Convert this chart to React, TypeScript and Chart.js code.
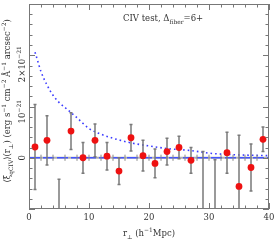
import React, { useEffect, useRef } from "react";
import { Chart, registerables } from "chart.js";
Chart.register(...registerables);

// Data (values in units of 1e-21 erg s^-1 cm^-2 Å^-1 arcsec^-2)
const binR = [1, 3, 5, 7, 9, 11, 13, 15, 17, 19, 21, 23, 25, 27, 29, 31, 33, 35, 37, 39];
const xiVals = [0.21, 0.34, -1.3, 0.52, 0.0, 0.34, 0.03, -0.26, 0.39, 0.04, -0.11, 0.12, 0.2, -0.05, -1.5, -1.2, 0.1, -0.56, -0.19, 0.36];
const xiErrs = [0.83, 0.48, 0.88, 0.36, 0.3, 0.32, 0.27, 0.26, 0.26, 0.3, 0.28, 0.26, 0.22, 0.25, 1.62, 1.16, 0.4, 1.0, 0.46, 0.24];

const modelR = [1, 1.5, 2, 3, 4, 5, 6, 7, 8, 10, 12, 14, 17, 20, 23, 27, 30, 34, 40];
const modelV = [2.06, 1.87, 1.68, 1.42, 1.22, 1.08, 0.98, 0.88, 0.78, 0.57, 0.46, 0.38, 0.29, 0.23, 0.18, 0.14, 0.09, 0.06, 0.04];

const zeroR = [2, 4, 6, 8, 10, 12, 14, 16, 18, 20, 22, 24, 26, 28, 30, 32, 34, 36, 38];
const zeroV = zeroR.map(() => 0);
const zeroErr = zeroR.map(() => 0.06);

const xTickLabels = ["0", "10", "20", "30", "40"];
const xTickValues = [0, 10, 20, 30, 40];
const yTickValues = [0, 1, 2];
const yTickLabels = [[{ t: "0" }], [{ t: "10" }, { t: "−21", sup: true }], [{ t: "2×10" }, { t: "−21", sup: true }]];

type Seg = { t: string; sub?: boolean; sup?: boolean };
const FONT = "'DejaVu Serif', serif";

function richWidth(ctx: CanvasRenderingContext2D, segs: Seg[], size: number) {
  let w = 0;
  for (const s of segs) {
    const fs = s.sub || s.sup ? size * 0.7 : size;
    ctx.font = `${fs}px ${FONT}`;
    w += ctx.measureText(s.t).width;
  }
  return w;
}
function drawRich(ctx: CanvasRenderingContext2D, segs: Seg[], x: number, y: number, size: number, align: "left" | "center") {
  const w = richWidth(ctx, segs, size);
  let cx = align === "center" ? x - w / 2 : x;
  ctx.textAlign = "left";
  ctx.textBaseline = "alphabetic";
  for (const s of segs) {
    const fs = s.sub || s.sup ? size * 0.7 : size;
    ctx.font = `${fs}px ${FONT}`;
    const dy = s.sub ? size * 0.3 : s.sup ? -size * 0.45 : 0;
    ctx.fillText(s.t, cx, y + dy);
    cx += ctx.measureText(s.t).width;
  }
  return w;
}

const decorPlugin = {
  id: "decor",
  beforeDatasetDraw(chart: any, args: any) {
    if (args.index !== 3) return;
    const { ctx, chartArea: a, scales } = chart;
    const xs = scales.x, ys = scales.y;
    ctx.save();
    ctx.beginPath();
    ctx.rect(a.left, a.top, a.right - a.left, a.bottom - a.top);
    ctx.clip();
    ctx.lineWidth = 1;
    ctx.strokeStyle = "#888";
    zeroR.forEach((r, i) => {
      const px = xs.getPixelForValue(r);
      ctx.beginPath();
      ctx.moveTo(px, ys.getPixelForValue(zeroV[i] + zeroErr[i]));
      ctx.lineTo(px, ys.getPixelForValue(zeroV[i] - zeroErr[i]));
      ctx.stroke();
    });
    ctx.strokeStyle = "#7a7a7a";
    ctx.lineWidth = 1.5;
    binR.forEach((r, i) => {
      const px = xs.getPixelForValue(r);
      const y1 = ys.getPixelForValue(xiVals[i] + xiErrs[i]);
      const y2 = ys.getPixelForValue(xiVals[i] - xiErrs[i]);
      ctx.beginPath();
      ctx.moveTo(px, y1);
      ctx.lineTo(px, y2);
      ctx.moveTo(px - 1.5, y1);
      ctx.lineTo(px + 1.5, y1);
      ctx.moveTo(px - 1.5, y2);
      ctx.lineTo(px + 1.5, y2);
      ctx.stroke();
    });
    ctx.restore();
  },
  afterDraw(chart: any) {
    const { ctx, chartArea: a, scales } = chart;
    const xs = scales.x, ys = scales.y;
    ctx.save();
    ctx.strokeStyle = "#777";
    ctx.lineWidth = 1;
    ctx.strokeRect(a.left + 0.5, a.top + 0.5, a.right - a.left - 1, a.bottom - a.top - 1);
    ctx.beginPath();
    for (let v = 0; v <= 40; v += 2) {
      const px = Math.round(xs.getPixelForValue(v)) + 0.5;
      const len = v % 10 === 0 ? 6 : 3.5;
      ctx.moveTo(px, a.bottom);
      ctx.lineTo(px, a.bottom - len);
      ctx.moveTo(px, a.top);
      ctx.lineTo(px, a.top + len);
    }
    for (let k = -5; k <= 15; k++) {
      const v = k / 5;
      const py = Math.round(ys.getPixelForValue(v)) + 0.5;
      const len = k % 5 === 0 ? 6 : 3.5;
      ctx.moveTo(a.left, py);
      ctx.lineTo(a.left + len, py);
      ctx.moveTo(a.right, py);
      ctx.lineTo(a.right - len, py);
    }
    ctx.stroke();
    ctx.fillStyle = "#333";
    xTickValues.forEach((v, i) => {
      drawRich(ctx, [{ t: xTickLabels[i] }], xs.getPixelForValue(v), a.bottom + 11, 8.5, "center");
    });
    yTickValues.forEach((v, i) => {
      const segs = yTickLabels[i] as Seg[];
      const w = richWidth(ctx, segs, 8.5);
      const py = ys.getPixelForValue(v) + Math.max(0, w - 6) * 0.3;
      ctx.save();
      ctx.translate(a.left - 4, py);
      ctx.rotate(-Math.PI / 2);
      drawRich(ctx, segs, 0, 0, 8.5, "center");
      ctx.restore();
    });
    drawRich(
      ctx,
      [{ t: "r" }, { t: "⊥", sub: true }, { t: " (h" }, { t: "−1", sup: true }, { t: "Mpc)" }],
      (a.left + a.right) / 2,
      a.bottom + 27,
      8.5,
      "center"
    );
    ctx.save();
    ctx.translate(10, 101);
    ctx.rotate(-Math.PI / 2);
    drawRich(
      ctx,
      [
        { t: "⟨ξ" }, { t: "qCIV", sub: true }, { t: "⟩(r" }, { t: "⊥", sub: true },
        { t: ") (erg s" }, { t: "−1", sup: true }, { t: " cm" }, { t: "−2", sup: true },
        { t: " Å" }, { t: "−1", sup: true }, { t: " arcsec" }, { t: "−2", sup: true }, { t: ")" },
      ],
      0,
      0,
      8.5,
      "center"
    );
    ctx.restore();
    drawRich(ctx, [{ t: "CIV test, Δ" }, { t: "fiber", sub: true }, { t: "=6+" }], 123, 21, 8.5, "left");
    ctx.restore();
  },
};

export default function App() {
  const ref = useRef<HTMLCanvasElement>(null);
  useEffect(() => {
    if (!ref.current) return;
    const chart = new Chart(ref.current, {
      type: "scatter",
      data: {
        datasets: [
          {
            type: "line",
            data: modelR.map((r, i) => ({ x: r, y: modelV[i] })),
            borderColor: "#3c3cff",
            borderWidth: 1.6,
            borderDash: [1.6, 3],
            pointRadius: 0,
            cubicInterpolationMode: "monotone",
            fill: false,
            order: 3,
          } as any,
          {
            type: "line",
            data: [{ x: 0, y: 0 }, { x: 40, y: 0 }],
            borderColor: "#b0b0b0",
            borderWidth: 2,
            pointRadius: 0,
            order: 2,
          } as any,
          {
            type: "line",
            data: [{ x: 0, y: 0 }, { x: 40, y: 0 }],
            borderColor: "#4455ff",
            borderWidth: 1.6,
            borderDash: [11, 3],
            pointRadius: 0,
            order: 1,
          } as any,
          {
            data: binR.map((r, i) => ({ x: r, y: xiVals[i] })),
            backgroundColor: "#ee1111",
            borderWidth: 0,
            pointRadius: 3.4,
            order: 0,
          } as any,
        ],
      },
      options: {
        animation: false,
        responsive: false,
        layout: { padding: { left: 29, right: 6, top: 1, bottom: 33 } },
        scales: {
          x: { type: "linear", min: 0, max: 40, display: false },
          y: { type: "linear", min: -1, max: 3, display: false },
        },
        plugins: { legend: { display: false }, tooltip: { enabled: false } },
      },
      plugins: [decorPlugin],
    });
    return () => chart.destroy();
  }, []);
  return (
    <div style={{ position: "absolute", left: 0, top: 0, width: 275, height: 242, background: "#fff" }}>
      <canvas ref={ref} width={275} height={242} />
    </div>
  );
}
